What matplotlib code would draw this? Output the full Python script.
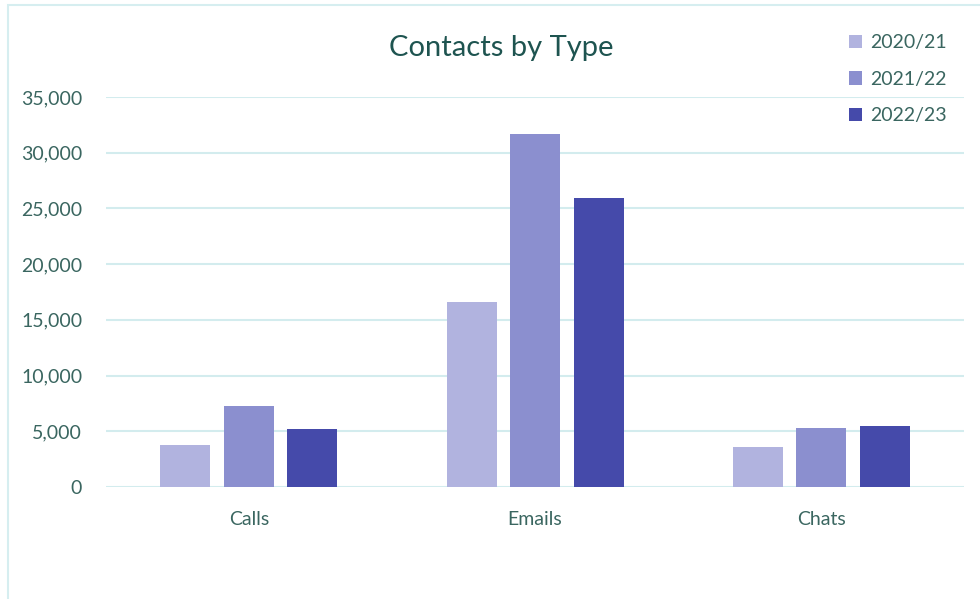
import matplotlib.pyplot as plt
import numpy as np
from matplotlib.patches import Rectangle
from matplotlib.ticker import FuncFormatter

categories = ["Calls", "Emails", "Chats"]
years = ["2020/21", "2021/22", "2022/23"]
values_2020 = [3750, 16600, 3600]
values_2021 = [7270, 31700, 5320]
values_2022 = [5200, 25950, 5450]
colors = ["#B1B3DF", "#8B8FCF", "#454AAA"]

plt.rcParams['font.family'] = ['Lato', 'DejaVu Sans']
text_color = "#3A6660"

fig = plt.figure(figsize=(9.8, 5.99), dpi=100)
ax = fig.add_axes([0.108, 0.187, 0.876, 0.651])

x = np.arange(len(categories))
w = 0.175
step = 0.222
series = [values_2020, values_2021, values_2022]
for i, (vals, lab, c) in enumerate(zip(series, years, colors)):
    ax.bar(x + (i - 1) * step, vals, width=w, color=c, label=lab, zorder=3)

ax.set_xlim(-0.5, 2.5)
ax.set_ylim(0, 35000)
ax.set_yticks(np.arange(0, 35001, 5000))
ax.yaxis.set_major_formatter(FuncFormatter(lambda v, p: f"{int(v):,}"))
ax.set_xticks(x)
ax.set_xticklabels(categories)
ax.grid(axis='y', color="#D3ECEE", linewidth=1.5, zorder=0)
for s in ax.spines.values():
    s.set_visible(False)
ax.tick_params(axis='both', length=0, labelsize=14, colors=text_color)
ax.tick_params(axis='y', pad=17)
ax.tick_params(axis='x', pad=17)

fig.text(0.511, 0.92, "Contacts by Type", ha='center', va='center',
         fontsize=21, color="#1E5450")

leg = fig.legend(loc='upper left', bbox_to_anchor=(0.848, 0.972), frameon=False,
                 fontsize=14, labelcolor=text_color, handlelength=0.7,
                 handleheight=0.7, handletextpad=0.4, labelspacing=1.0)

fig.patches.append(Rectangle((8 / 980, -0.05), 1.1, 0.05 + 1 - 5 / 599,
                             transform=fig.transFigure, fill=False,
                             edgecolor="#D6EEF0", linewidth=1.5))

fig.savefig("out.png", dpi=100)
